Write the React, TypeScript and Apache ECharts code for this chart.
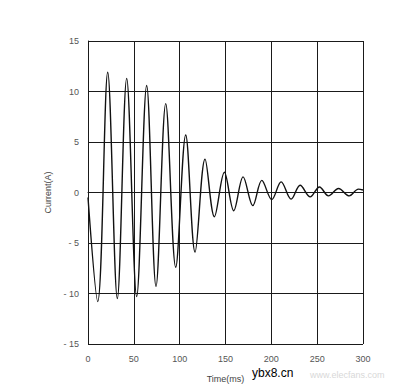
import React, { useEffect, useRef } from "react";
import * as echarts from "echarts";

const timeMs = [0, 10.6, 21.5, 32, 42.2, 53.1, 64, 74.2, 84.8, 95.7, 106.6, 116.8, 127.7, 137.9, 148.8, 159, 169.2, 179.8, 189.6, 200.5, 210.7, 221.6, 231.4, 242.4, 252.5, 262.3, 273.3, 285, 295, 300];
const currentA = [-0.5, -10.8, 11.9, -10.5, 11.3, -10.3, 10.6, -9.3, 8.8, -7.4, 5.7, -5.9, 3.3, -2.4, 2.0, -1.8, 1.55, -1.3, 1.2, -0.7, 1.05, -0.66, 0.72, -0.43, 0.55, -0.33, 0.4, -0.33, 0.33, 0.25];
const xTicks = [0, 50, 100, 150, 200, 250, 300];
const yTicks = [-15, -10, -5, 0, 5, 10, 15];

export default function App() {
  const ref = useRef<HTMLDivElement>(null);
  useEffect(() => {
    if (!ref.current) return;
    const chart = echarts.init(ref.current, undefined, { renderer: "svg" });
    const gridLine = { show: true, lineStyle: { color: "#1a1a1a", width: 1 } };
    chart.setOption({
      animation: false,
      backgroundColor: "#ffffff",
      grid: { left: 88, right: 38, top: 41, bottom: 44 },
      xAxis: {
        type: "value",
        min: xTicks[0],
        max: xTicks[xTicks.length - 1],
        interval: 50,
        name: "Time(ms)",
        nameLocation: "middle",
        nameGap: 30,
        nameTextStyle: { fontFamily: "Liberation Sans", fontSize: 9, color: "#444" },
        axisLine: { show: true, lineStyle: { color: "#1a1a1a", width: 1 } },
        axisTick: { show: false },
        axisLabel: { fontFamily: "Liberation Sans", fontSize: 9, color: "#555", margin: 10 },
        splitLine: gridLine,
      },
      yAxis: {
        type: "value",
        min: yTicks[0],
        max: yTicks[yTicks.length - 1],
        interval: 5,
        name: "Current(A)",
        nameLocation: "middle",
        nameGap: 18,
        nameRotate: 90,
        nameTextStyle: { fontFamily: "Liberation Sans", fontSize: 9, color: "#444" },
        axisLine: { show: true, lineStyle: { color: "#1a1a1a", width: 1 } },
        axisTick: { show: false },
        axisLabel: {
          fontFamily: "Liberation Sans",
          fontSize: 9,
          color: "#555",
          margin: 9,
          formatter: (v: number) => (v < 0 ? "- " + Math.abs(v) : String(v)),
        },
        splitLine: gridLine,
      },
      series: [
        {
          type: "line",
          data: timeMs.map((t, i) => [t, currentA[i]]),
          showSymbol: false,
          smooth: 0.35,
          lineStyle: { color: "#111", width: 1.4 },
        },
      ],
      graphic: [
        {
          type: "text",
          left: 310,
          top: 370,
          style: { text: "www.elecfans.com", fontSize: 9, fill: "#d8d8d8", fontFamily: "Liberation Sans" },
        },
        {
          type: "text",
          left: 252,
          top: 367,
          style: {
            text: "ybx8.cn",
            fontSize: 12,
            fill: "#000",
            fontFamily: "Liberation Sans",
          },
        },
      ],
    });
    return () => chart.dispose();
  }, []);
  return <div ref={ref} style={{ position: "absolute", left: 0, top: 0, width: 401, height: 388 }} />;
}
